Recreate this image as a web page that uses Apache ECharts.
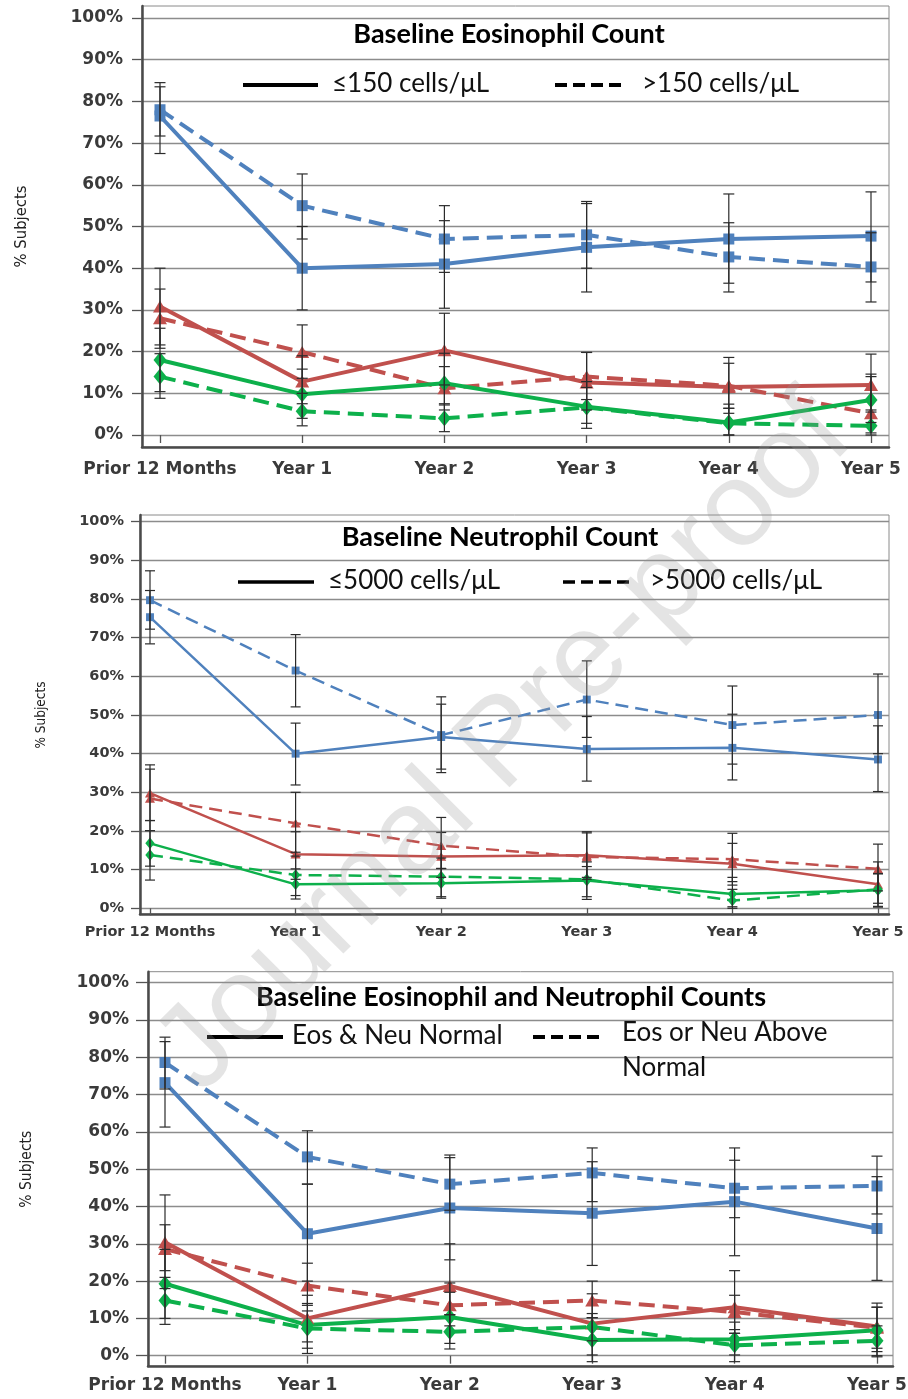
<!DOCTYPE html>
<html><head><meta charset="utf-8">
<script src="https://cdn.jsdelivr.net/npm/echarts@6/dist/echarts.min.js"></script>
<style>html,body{margin:0;padding:0;background:#fff}#c{width:908px;height:1399px}</style>
</head><body><div id="c"></div><script>
// ---------- DATA ----------
const categories = ['Prior 12 Months', 'Year 1', 'Year 2', 'Year 3', 'Year 4', 'Year 5'];
const yAxisName = '% Subjects';

// Panel 1: Baseline Eosinophil Count
const p1Title = 'Baseline Eosinophil Count';
const p1LegendSolid = '≤150 cells/μL';
const p1LegendDash = '>150 cells/μL';
const p1BlueSolid = [76.5, 40, 41, 45, 47, 47.7];
const p1BlueSolidCI = [[67.5, 84.5], [30, 50], [30.4, 51.4], [34.3, 56], [36.4, 57.8], [36.7, 58.3]];
const p1BlueDash = [78, 55, 47, 48, 42.7, 40.3];
const p1BlueDashCI = [[71.7, 83.5], [47, 62.6], [39, 55], [40, 55.5], [34.3, 50.9], [31.9, 48.5]];
const p1RedSolid = [30.8, 12.8, 20.3, 12.6, 11.5, 12];
const p1RedSolidCI = [[21.6, 40], [7.5, 19], [12, 29.2], [6, 19.8], [5.2, 18.6], [5.5, 19.4]];
const p1RedDash = [28, 19.9, 11.2, 14, 11.8, 5.2];
const p1RedDashCI = [[20.8, 35], [13.6, 26.4], [6, 16.4], [8.5, 19.8], [6.4, 17.2], [0.5, 14.6]];
const p1GreenSolid = [18, 9.8, 12.4, 6.8, 3, 8.4];
const p1GreenSolidCI = [[10.4, 25.6], [4, 15.8], [7.2, 19.6], [2.8, 12.8], [0, 7.4], [3, 14]];
const p1GreenDash = [14, 5.7, 4, 6.6, 2.8, 2.2];
const p1GreenDashCI = [[8.8, 19.5], [2.2, 10], [0.8, 7.5], [1.6, 11.4], [0, 6.4], [0, 6]];

// Panel 2: Baseline Neutrophil Count
const p2Title = 'Baseline Neutrophil Count';
const p2LegendSolid = '≤5000 cells/μL';
const p2LegendDash = '>5000 cells/μL';
const p2BlueSolid = [75.3, 40, 44.3, 41.2, 41.5, 38.5];
const p2BlueSolidCI = [[68.4, 82.2], [31.9, 47.9], [35.1, 52.8], [32.9, 49.6], [33.2, 50.2], [30.2, 47.2]];
const p2BlueDash = [79.7, 61.5, 44.8, 54, 47.4, 50];
const p2BlueDashCI = [[72.2, 87.3], [52.1, 70.8], [36, 54.7], [44.2, 64], [37.3, 57.5], [40, 60.6]];
const p2RedSolid = [29.8, 14, 13.4, 13.7, 11.5, 6.2];
const p2RedSolidCI = [[22.7, 37.1], [7.5, 19.8], [8, 19.6], [8, 19.8], [6, 16.8], [1.3, 12]];
const p2RedDash = [28.4, 22, 16.2, 13.3, 12.7, 10.2];
const p2RedDashCI = [[20.1, 36], [14.5, 30], [10.3, 23.5], [7.5, 19.5], [6.9, 19.4], [4.5, 16.6]];
const p2GreenSolid = [16.8, 6.2, 6.5, 7.2, 3.7, 4.7];
const p2GreenSolidCI = [[10.9, 22.7], [2.4, 10.2], [2.6, 10.3], [2.3, 12], [0.4, 8], [0.3, 8.9]];
const p2GreenDash = [13.8, 8.6, 8.2, 7.5, 2, 4.9];
const p2GreenDashCI = [[7.3, 20.1], [3.3, 13.5], [3, 13], [3, 10.8], [0, 4.9], [0.5, 9]];

// Panel 3: Baseline Eosinophil and Neutrophil Counts
const p3Title = 'Baseline Eosinophil and Neutrophil Counts';
const p3LegendSolid = 'Eos & Neu Normal';
const p3LegendDash = ['Eos or Neu Above', 'Normal'];
const p3BlueSolid = [73.2, 32.7, 39.6, 38.2, 41.3, 34.1];
const p3BlueSolidCI = [[61.3, 84.2], [20, 46], [25.7, 53.1], [24.2, 52], [26.8, 55.7], [20.2, 48]];
const p3BlueDash = [78.6, 53.3, 46, 49, 44.9, 45.5];
const p3BlueDashCI = [[71.5, 85.4], [46, 60.3], [39, 53.8], [41.3, 55.7], [37, 52.4], [38, 53.5]];
const p3RedSolid = [30.4, 10, 18.7, 8.6, 13, 7.8];
const p3RedSolidCI = [[18, 43.1], [3.7, 16.2], [11, 30], [4, 16.6], [6, 22.8], [1.1, 14.1]];
const p3RedDash = [28.6, 18.8, 13.5, 14.8, 11.7, 7.5];
const p3RedDashCI = [[22.8, 35.1], [13.5, 24.8], [8, 19.5], [10.2, 20], [6, 16.2], [2, 13]];
const p3GreenSolid = [19.3, 8.2, 10.4, 4.2, 4.4, 6.8];
const p3GreenSolidCI = [[10, 28.5], [2, 14], [3.3, 17], [-1.6, 10.2], [0.2, 9], [-0.3, 13]];
const p3GreenDash = [14.8, 7.3, 6.4, 7.7, 2.8, 4];
const p3GreenDashCI = [[8.4, 21], [0.6, 12], [1.8, 11], [0.2, 11.3], [-1.6, 7], [0, 8]];

// ---------- STYLE / LAYOUT ----------
const BLUE = '#4F81BD', RED = '#C0504D', GREEN = '#0DB04B';
const H = 1399;
const PANELS = [
  {
    frame: {left: 142, right: 19, top: 6, bottom: H - 447},
    wide: {left: 142, right: 19, top: 18, bottom: H - 435},
    data: {left: 160, right: 37, top: 18, bottom: H - 435},
    xOffset: 12, lab: 17, xMargin: 14, yMargin: 19, yTickLen: 10, xTickLen: 8,
    nameGap: 112, nameSize: 16.5, lw: 4, dash: [16, 8], symScale: 1, cap: 5.5,
    title: p1Title, titleX: 509, titleY: 34,
    leg: {y: 85, s1: 243, s2: 318, t1: 332, d1: 555, d2: 623, t2: 642, lw: 4},
    legSolid: p1LegendSolid, legDash: [p1LegendDash],
    lines: [
      [p1BlueSolid, p1BlueSolidCI, BLUE, false, 'rect'],
      [p1BlueDash, p1BlueDashCI, BLUE, true, 'rect'],
      [p1RedSolid, p1RedSolidCI, RED, false, 'triangle'],
      [p1RedDash, p1RedDashCI, RED, true, 'triangle'],
      [p1GreenSolid, p1GreenSolidCI, GREEN, false, 'diamond'],
      [p1GreenDash, p1GreenDashCI, GREEN, true, 'diamond']
    ]
  },
  {
    frame: {left: 140, right: 19, top: 515, bottom: H - 914},
    wide: {left: 140, right: 19, top: 521.7, bottom: H - 908.3},
    data: {left: 150, right: 30, top: 521.7, bottom: H - 908.3},
    xOffset: 5.7, lab: 14.5, xMargin: 10.5, yMargin: 16, yTickLen: 9, xTickLen: 7,
    nameGap: 92, nameSize: 13.5, lw: 2.5, dash: [13, 7], symScale: 0.72, cap: 5,
    title: p2Title, titleX: 500, titleY: 537,
    leg: {y: 582, s1: 238, s2: 314, t1: 328, d1: 563, d2: 631, t2: 650, lw: 3.5},
    legSolid: p2LegendSolid, legDash: [p2LegendDash],
    lines: [
      [p2BlueSolid, p2BlueSolidCI, BLUE, false, 'rect'],
      [p2BlueDash, p2BlueDashCI, BLUE, true, 'rect'],
      [p2RedSolid, p2RedSolidCI, RED, false, 'triangle'],
      [p2RedDash, p2RedDashCI, RED, true, 'triangle'],
      [p2GreenSolid, p2GreenSolidCI, GREEN, false, 'diamond'],
      [p2GreenDash, p2GreenDashCI, GREEN, true, 'diamond']
    ]
  },
  {
    frame: {left: 148, right: 15, top: 971.7, bottom: H - 1366},
    wide: {left: 148, right: 15, top: 982.7, bottom: H - 1355.7},
    data: {left: 165, right: 31, top: 982.7, bottom: H - 1355.7},
    xOffset: 10.3, lab: 17, xMargin: 11.5, yMargin: 19, yTickLen: 12, xTickLen: 8,
    nameGap: 113, nameSize: 15.5, lw: 4, dash: [16, 8], symScale: 1, cap: 5.5,
    title: p3Title, titleX: 511, titleY: 997,
    leg: {y: 1037, s1: 207, s2: 283, t1: 292, d1: 533, d2: 601, t2: 622, lw: 4},
    legSolid: p3LegendSolid, legDash: p3LegendDash,
    lines: [
      [p3BlueSolid, p3BlueSolidCI, BLUE, false, 'rect'],
      [p3BlueDash, p3BlueDashCI, BLUE, true, 'rect'],
      [p3RedSolid, p3RedSolidCI, RED, false, 'triangle'],
      [p3RedDash, p3RedDashCI, RED, true, 'triangle'],
      [p3GreenSolid, p3GreenSolidCI, GREEN, false, 'diamond'],
      [p3GreenDash, p3GreenDashCI, GREEN, true, 'diamond']
    ]
  }
];

function symSize(sym, k) {
  if (sym === 'rect') return [11 * k, 11 * k];
  if (sym === 'triangle') return [14 * k, 12 * k];
  return [13 * k, 16 * k];
}

function errRender(cap) {
  return function (params, api) {
    const x = api.value(0), lo = api.value(1), hi = api.value(2);
    const a = api.coord([x, lo]), b = api.coord([x, hi]);
    const st = {stroke: '#2b2b2b', lineWidth: 1.2, fill: null};
    return {
      type: 'group', children: [
        {type: 'line', shape: {x1: a[0], y1: a[1], x2: b[0], y2: b[1]}, style: st},
        {type: 'line', shape: {x1: a[0] - cap, y1: a[1], x2: a[0] + cap, y2: a[1]}, style: st},
        {type: 'line', shape: {x1: b[0] - cap, y1: b[1], x2: b[0] + cap, y2: b[1]}, style: st}
      ]
    };
  };
}

const grids = [], xAxes = [], yAxes = [], series = [], graphics = [];
const axisFont = 'DejaVu Sans';
const legFont = 'Lato, "Open Sans", sans-serif';
const nameFont = '"Liberation Sans Narrow", "DejaVu Sans Condensed", "Liberation Sans", sans-serif';

PANELS.forEach((P) => {
  const gi = grids.length;
  // frame grid
  grids.push(Object.assign({show: true, borderColor: '#8a8a8a', borderWidth: 1, backgroundColor: 'rgba(0,0,0,0)', containLabel: false, outerBoundsMode: 'none'}, P.frame));
  const frameAxis = {gridIndex: gi, type: 'value', min: 0, max: 1,
    axisLine: {show: true, onZero: false, lineStyle: {color: '#4a4a4a', width: 2.5}},
    axisTick: {show: false}, axisLabel: {show: false}, splitLine: {show: false}};
  xAxes.push(Object.assign({}, frameAxis));
  yAxes.push(Object.assign({}, frameAxis));
  // wide grid (y labels, ticks, gridlines)
  grids.push(Object.assign({containLabel: false, outerBoundsMode: 'none'}, P.wide));
  xAxes.push({gridIndex: gi + 1, type: 'value', min: 0, max: 1, show: false});
  yAxes.push({gridIndex: gi + 1, type: 'value', min: 0, max: 100, interval: 10,
    name: yAxisName, nameLocation: 'middle', nameRotate: 90, nameGap: P.nameGap,
    nameTextStyle: {fontFamily: nameFont, fontSize: P.nameSize, color: '#222'},
    axisLine: {show: false},
    axisTick: {show: true, length: P.yTickLen, lineStyle: {color: '#555', width: 1.3}},
    axisLabel: {formatter: '{value}%', margin: P.yMargin, fontFamily: axisFont, fontWeight: 'bold', fontSize: P.lab, color: '#3a3a3a'},
    splitLine: {show: true, lineStyle: {color: '#8c8c8c', width: 1.3}}});
  // data grid
  grids.push(Object.assign({containLabel: false, outerBoundsMode: 'none'}, P.data));
  xAxes.push({gridIndex: gi + 2, type: 'category', data: categories, boundaryGap: false, offset: P.xOffset,
    axisLine: {show: false},
    axisTick: {show: true, length: P.xTickLen, lineStyle: {color: '#555', width: 1.3}},
    axisLabel: {interval: 0, margin: P.xMargin, fontFamily: axisFont, fontWeight: 'bold', fontSize: P.lab, color: '#3a3a3a'},
    splitLine: {show: false}});
  yAxes.push({gridIndex: gi + 2, type: 'value', min: 0, max: 100, show: false});

  P.lines.forEach(([vals, ci, color, dashed, sym]) => {
    series.push({type: 'line', xAxisIndex: gi + 2, yAxisIndex: gi + 2, data: vals,
      symbol: sym, symbolSize: symSize(sym, P.symScale), showSymbol: true,
      lineStyle: {color: color, width: P.lw, type: dashed ? P.dash : 'solid', cap: 'butt'},
      itemStyle: {color: color, borderWidth: 0},
      emphasis: {disabled: true}, silent: true, z: 3, animation: false});
  });
  P.lines.forEach(([vals, ci]) => {
    series.push({type: 'custom', xAxisIndex: gi + 2, yAxisIndex: gi + 2,
      data: ci.map((c, i) => [i, c[0], c[1]]), encode: {x: 0, y: [1, 2]},
      renderItem: errRender(P.cap), silent: true, z: 4, animation: false, clip: false});
  });

  // title and legend
  graphics.push({type: 'text', x: P.titleX, y: P.titleY, z: 10,
    style: {text: P.title, font: 'bold 27px ' + legFont, fill: '#000', align: 'center', verticalAlign: 'middle', textAlign: 'center', textVerticalAlign: 'middle'}});
  const L = P.leg;
  graphics.push({type: 'line', z: 10, shape: {x1: L.s1, y1: L.y, x2: L.s2, y2: L.y}, style: {stroke: '#000', lineWidth: L.lw}});
  graphics.push({type: 'line', z: 10, shape: {x1: L.d1, y1: L.y, x2: L.d2, y2: L.y}, style: {stroke: '#000', lineWidth: L.lw, lineDash: [12, 6]}});
  graphics.push({type: 'text', x: L.t1, y: L.y - 1, z: 10,
    style: {text: P.legSolid, font: '26px ' + legFont, fill: '#111', align: 'left', verticalAlign: 'middle', textAlign: 'left', textVerticalAlign: 'middle'}});
  P.legDash.forEach((t, k) => {
    graphics.push({type: 'text', x: L.t2, y: L.y - (P.legDash.length > 1 ? 4 : 1) + k * 35, z: 10,
      style: {text: t, font: '26px ' + legFont, fill: '#111', align: 'left', verticalAlign: 'middle', textAlign: 'left', textVerticalAlign: 'middle'}});
  });
});

// watermark
graphics.push({type: 'text', x: 505, y: 745, rotation: Math.PI / 4, z: 100,
  style: {text: 'Journal Pre-proof', font: '120px "Liberation Sans", Arial, sans-serif', fill: 'rgba(150,150,150,0.26)', align: 'center', verticalAlign: 'middle', textAlign: 'center', textVerticalAlign: 'middle'}});

const chart = echarts.init(document.getElementById('c'));
chart.setOption({
  animation: false,
  backgroundColor: '#fff',
  grid: grids, xAxis: xAxes, yAxis: yAxes, series: series,
  graphic: {elements: graphics}
});
</script></body></html>
